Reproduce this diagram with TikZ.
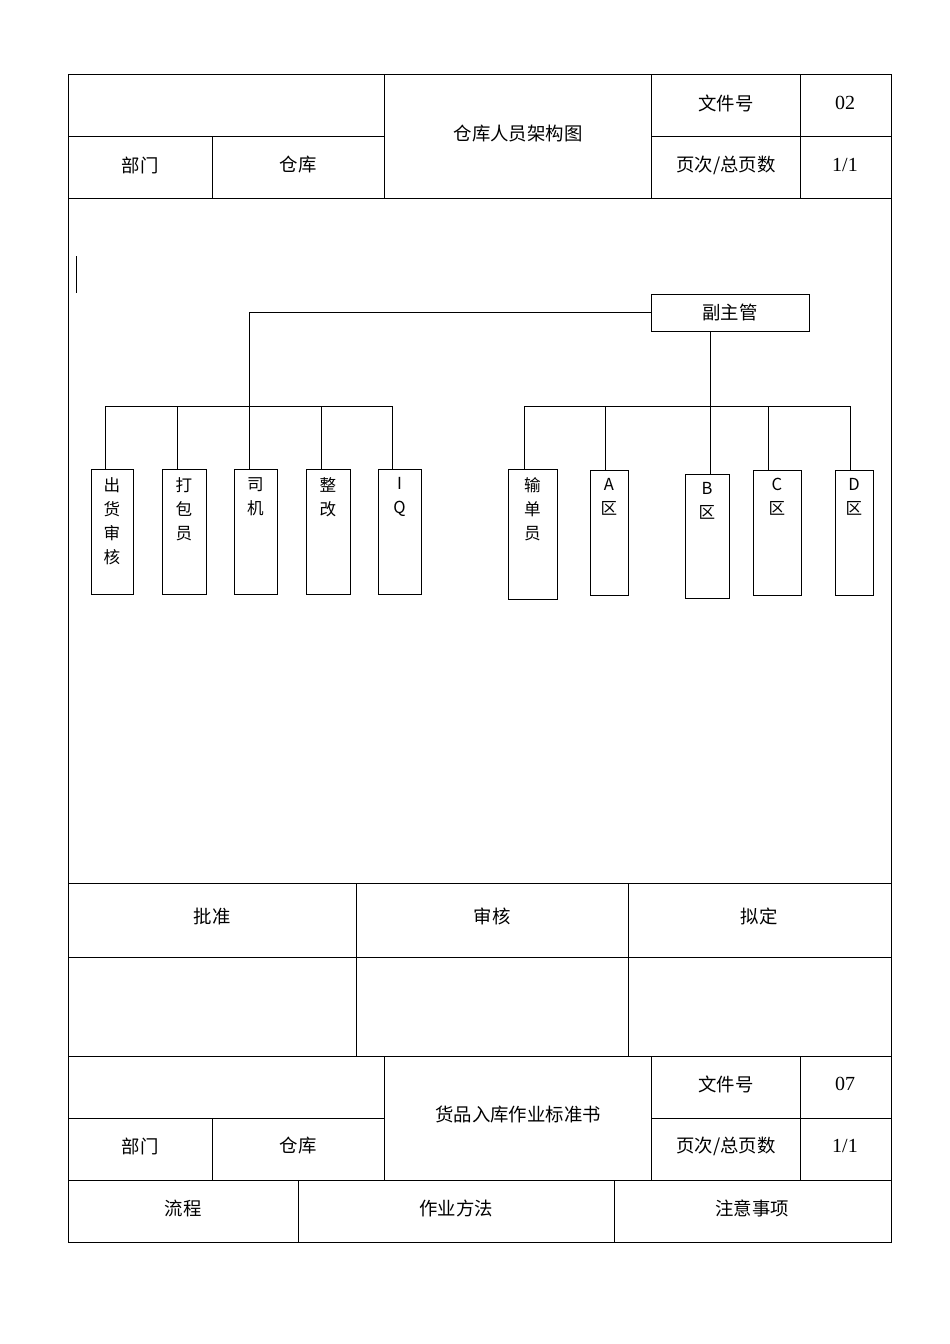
\documentclass[tikz,border=0pt]{standalone}
\usepackage{fontspec}
\setmainfont{Liberation Serif}
\newfontfamily\cjk{Noto Sans CJK SC}[Scale=0.92]
\begin{document}
\begin{tikzpicture}[x=1pt,y=-1pt,line width=0.8pt,
  t/.style={font=\fontsize{20}{20}\selectfont\cjk},
  tl/.style={font=\fontsize{20}{20}\selectfont},
  vt/.style={font=\fontsize{18}{24}\selectfont\cjk,align=center,anchor=north,inner sep=0pt}]
\useasboundingbox (0,0) rectangle (950,1344);
% header 1
\draw (68,74) rectangle (891,883);
\draw (68,136)--(384,136) (651,136)--(891,136) (68,198)--(891,198);
\draw (384,74)--(384,198) (651,74)--(651,198) (800,74)--(800,198) (212,136)--(212,198);
\node[t] (h1) at (518,134) {仓库人员架构图};
\node[t] at (726,103) {文件号};
\node[tl] at (845,103) {02};
\node[t] at (140,165) {部门};
\node[t] at (298,165) {仓库};
\node[t] at (726,165) {页次/总页数};
\node[tl] at (845,165) {1/1};
\draw (76,256)--(76,293);
% chart
\node[draw,minimum width=158pt,minimum height=37pt,inner sep=0pt,t] (top) at (730,312.5) {副主管};
\coordinate (lj) at (249,406);
\coordinate (rj) at (710,406);
\draw (top.west)--(249,312.5)--(lj);
\draw (105,406)--(392,406);
\draw (top.south -| rj)--(rj);
\draw (524,406)--(850,406);
\foreach \x/\a/\b/\y/\yb/\txt [count=\i] in {
 105/91/133/469/594/{出\\货\\审\\核},
 177/162/206/469/594/{打\\包\\员},
 249/234/277/469/594/{司\\机},
 321/306/350/469/594/{整\\改},
 392/378/421/469/594/{I\\Q},
 524/508/557/469/599/{输\\单\\员},
 605/590/628/470/595/{A\\区},
 710/685/729/474/598/{B\\区},
 768/753/801/470/595/{C\\区},
 850/835/873/470/595/{D\\区}}{
  \draw (\a,\y) rectangle (\b,\yb);
  \coordinate (c\i) at (\x,\y);
  \draw (\x,406)--(c\i);
  \node[vt] (n\i) at ({(\a+\b)/2},\y+8) {\txt};
}
% approval
\draw (68,883) rectangle (891,1056);
\draw (68,957)--(891,957) (356,883)--(356,1056) (628,883)--(628,1056);
\node[t] at (212,916) {批准};
\node[t] at (492,916) {审核};
\node[t] at (759,916) {拟定};
% header 2
\draw (68,1056) rectangle (891,1242);
\draw (68,1118)--(384,1118) (651,1118)--(891,1118) (68,1180)--(891,1180);
\draw (384,1056)--(384,1180) (651,1056)--(651,1180) (800,1056)--(800,1180) (212,1118)--(212,1180);
\draw (298,1180)--(298,1242) (614,1180)--(614,1242);
\node[t] at (518,1114) {货品入库作业标准书};
\node[t] at (726,1084) {文件号};
\node[tl] at (845,1084) {07};
\node[t] at (140,1146) {部门};
\node[t] at (298,1146) {仓库};
\node[t] at (726,1146) {页次/总页数};
\node[tl] at (845,1146) {1/1};
\node[t] at (183,1208) {流程};
\node[t] at (456,1208) {作业方法};
\node[t] at (752,1208) {注意事项};
\end{tikzpicture}
\end{document}
